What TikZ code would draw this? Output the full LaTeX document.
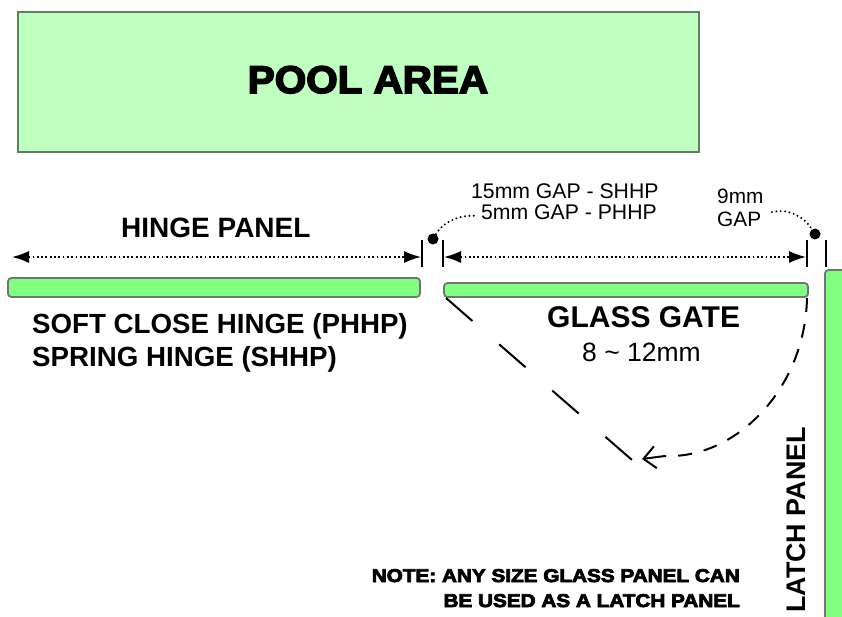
\documentclass[tikz,border=0pt]{standalone}
\usepackage{fontspec}
\setmainfont{Liberation Sans}
\newfontfamily\heavyfont[FakeBold=4]{Liberation Sans Bold}
\usetikzlibrary{arrows.meta}

\begin{document}
\begin{tikzpicture}[x=1pt,y=-1pt,
area/.style={line width=1.8pt,inner sep=0pt},
panel/.style={draw=gray!90!black,line width=1.8pt,fill=panelgreen,rounded corners=3.5pt,inner sep=0pt},
lbl/.style={anchor=base west,inner sep=0pt,font=\fontsize{28}{30}\selectfont\bfseries},
gap/.style={anchor=base west,inner sep=0pt,font=\fontsize{21.2}{23}\selectfont},
note/.style={anchor=base east,inner sep=0pt,xscale=1.12,font=\fontsize{18.5}{20}\selectfont\heavyfont},
tick/.style={line width=1.4pt},
dim/.style={line width=1.5pt,dash pattern=on 1.8pt off 2.5pt,{Latex[length=17pt,width=12pt]}-{Latex[length=17pt,width=12pt]}},
lead/.style={line width=2.2pt,line cap=round,dash pattern=on 0pt off 4.4pt},
swing/.style={line width=2pt}]
\definecolor{panelgreen}{HTML}{80FF80}
\definecolor{areagreen}{HTML}{BFFFBF}
\definecolor{areaedge}{HTML}{608060}
\useasboundingbox (0,0) rectangle (842,617);
\clip (0,0) rectangle (842,617);
\def\tickA{240};
\def\tickB{267};
\def\dimy{257};
\node[area,draw=areaedge,fill=areagreen,minimum width=681pt,minimum height=140pt] (pool) at (358.5,82) {};
\node[anchor=base,inner sep=0pt,xscale=1.05,font=\fontsize{38.5}{40}\selectfont\heavyfont] (poolT) at (368,93) {POOL AREA};
\node[panel,minimum width=412pt,minimum height=19pt] (hinge) at (214,287.5) {};
\node[panel,minimum width=364pt,minimum height=14pt] (gate) at (626,290) {};
\node[panel,minimum width=40pt,minimum height=370pt] (latch) at (845,455) {};
\coordinate (t1a) at (422,\tickA);
\coordinate (t1b) at (422,\tickB);
\coordinate (t2a) at (443,\tickA);
\coordinate (t2b) at (443,\tickB);
\coordinate (t3a) at (807,\tickA);
\coordinate (t3b) at (807,\tickB);
\coordinate (t4a) at (826,\tickA);
\coordinate (t4b) at (826,\tickB);
\coordinate (h1) at (12,\dimy);
\coordinate (h2) at (421,\dimy);
\coordinate (g1) at (444,\dimy);
\coordinate (g2) at (806,\dimy);
\draw[tick] (t1a) -- (t1b);
\draw[tick] (t2a) -- (t2b);
\draw[tick] (t3a) -- (t3b);
\draw[tick] (t4a) -- (t4b);
\draw[dim] (h1) -- (h2);
\draw[dim] (g1) -- (g2);
\node[circle,fill=black,inner sep=0pt,minimum size=11pt] (dotA) at (433,239) {};
\node[circle,fill=black,inner sep=0pt,minimum size=11pt] (dotB) at (815,234) {};
\coordinate (leadA) at (478,216);
\coordinate (leadB) at (772,212);
\draw[lead] (dotA) .. controls (443,222) and (460,214) .. (leadA);
\draw[lead] (leadB) .. controls (790,208) and (805,218) .. (dotB);
\node[gap] (gapS) at (471,199) {15mm GAP - SHHP};
\node[gap] (gapP) at (481,220) {5mm GAP - PHHP};
\node[gap,font=\fontsize{20.8}{23}\selectfont] (gapN) at (717,204) {9mm};
\node[gap,font=\fontsize{20.8}{23}\selectfont] (gapG) at (717,227) {GAP};
\node[lbl] (hingeT) at (121,238) {HINGE PANEL};
\node[lbl,font=\fontsize{27.7}{30}\selectfont\bfseries] (softT) at (32,333) {SOFT CLOSE HINGE (PHHP)};
\node[lbl,font=\fontsize{27.7}{30}\selectfont\bfseries] (springT) at (32,366) {SPRING HINGE (SHHP)};
\node[lbl,font=\fontsize{30}{32}\selectfont\bfseries] (gateT) at (547,327) {GLASS GATE};
\node[gap,font=\fontsize{26.5}{28}\selectfont] (thickT) at (582,361) {8 \textasciitilde{} 12mm};
\node[lbl,font=\fontsize{26.9}{28}\selectfont\bfseries,rotate=90] (latchT) at (805,613) {LATCH PANEL};
\node[note] (noteA) at (740,582) {NOTE: ANY SIZE GLASS PANEL CAN};
\node[note] (noteB) at (740,607) {BE USED AS A LATCH PANEL};
\coordinate (swingA) at (446,298);
\coordinate (swingB) at (632,460);
\coordinate (arcA) at (807,298);
\coordinate (arcB) at (642,459);
\draw[swing,dash pattern=on 35pt off 35.5pt] (swingA) -- (swingB);
\draw[swing,dash pattern=on 14pt off 12pt] (arcA) .. controls (805,390) and (735,459) .. (665,456);
\draw[swing,-{Straight Barb[length=12pt,width=22pt]}] (665,456) -- (arcB);
\end{tikzpicture}
\end{document}
